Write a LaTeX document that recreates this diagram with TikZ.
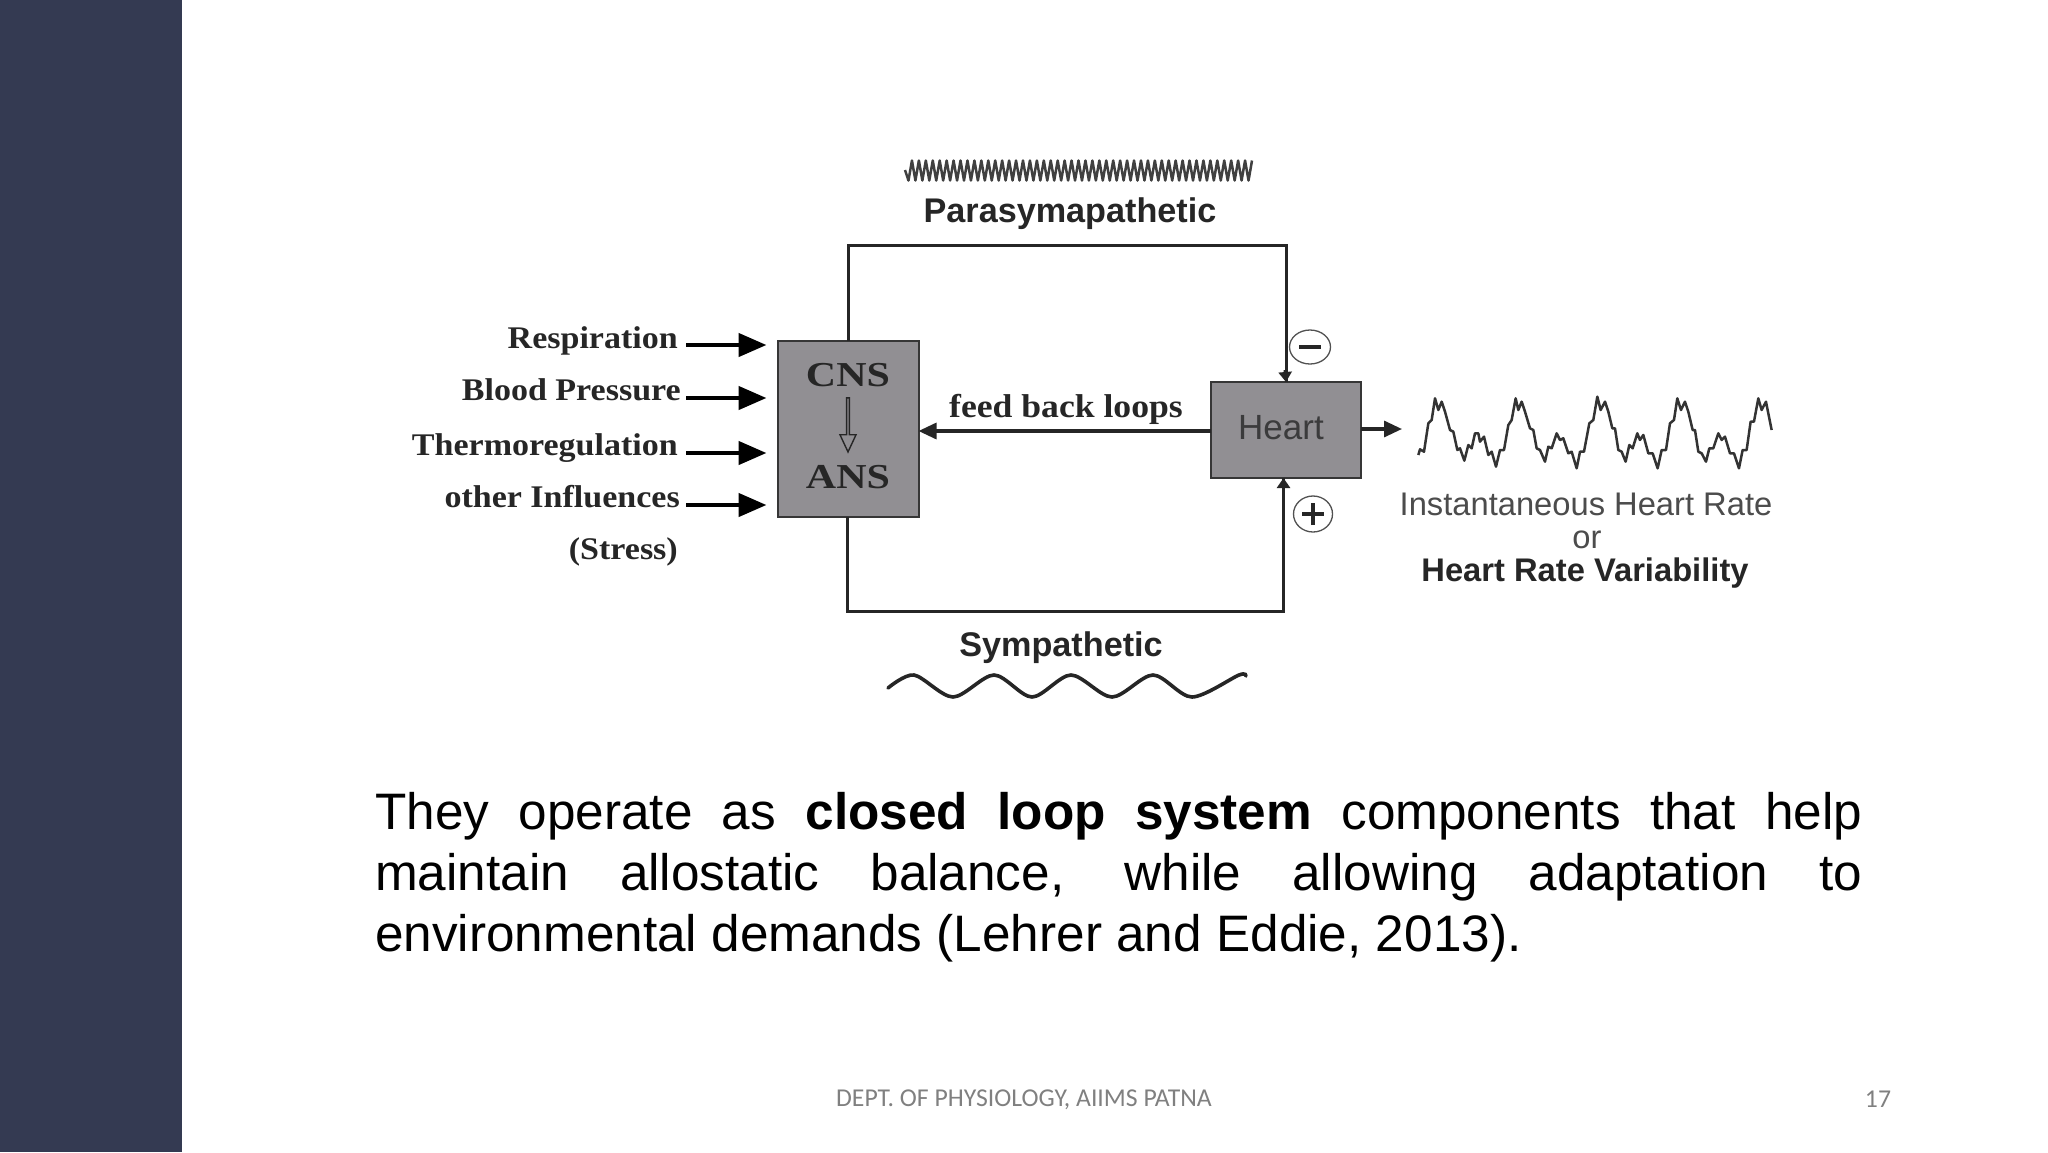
\documentclass[tikz,border=0pt]{standalone}
\usepackage{fontspec}
\setmainfont{Liberation Sans}
\newfontfamily\serifb[FakeStretch=1.08]{Liberation Serif}
\newfontfamily\serifw[FakeStretch=1.2]{Liberation Serif}
\newfontfamily\carl{Carlito}
\usetikzlibrary{arrows.meta,shapes.arrows,shapes.geometric}
\definecolor{sidebar}{HTML}{343A52}
\definecolor{boxgray}{HTML}{918F93}
\definecolor{inkdark}{HTML}{262626}
\definecolor{footgray}{HTML}{808080}
\tikzset{
  x=1pt,y=-1pt,
  graybox/.style={draw=inkdark!85!boxgray,line width=2pt,fill=boxgray,inner sep=0pt,outer sep=0pt},
  wire/.style={draw=inkdark,line width=3pt,line join=miter},
  inarrow/.style={draw=black,line width=4.5pt,-{Triangle[length=28pt,width=23pt]}},
  midarrow/.style={draw=inkdark,line width=3.2pt,-{Triangle[length=18pt,width=16pt]}},
  smallhead/.style={draw=inkdark,line width=3pt,-{Triangle[length=10pt,width=13pt]}},
  inlabel/.style={anchor=base east,inner sep=0pt,text=inkdark,font=\serifb\bfseries\fontsize{31.5}{36}\selectfont},
  sanslabel/.style={inner sep=0pt,text=inkdark,font=\bfseries\fontsize{34.2}{38}\selectfont},
  outlabel/.style={inner sep=0pt,text=black!70,font=\fontsize{32.7}{38}\selectfont},
  signring/.style={draw=inkdark!80,line width=1.3pt,ellipse,fill=white},
  footer/.style={inner sep=0pt,text=footgray,font=\carl\fontsize{25.7}{30}\selectfont}
}
\begin{document}
\begin{tikzpicture}
\useasboundingbox (0,0) rectangle (2048,1152);
\fill[white] (0,0) rectangle (2048,1152);
\fill[sidebar] (0,0) rectangle (182,1152);

% boxes
\node[graybox,minimum width=141pt,minimum height=176pt] (cns) at (848,429) {};
\node[graybox,minimum width=150pt,minimum height=96pt] (heart) at (1286,430) {};
\node[inner sep=0pt,text=inkdark,font=\serifw\bfseries\fontsize{35}{40}\selectfont] (cnslabel) at (848,375) {CNS};
\node[inner sep=0pt,text=inkdark,font=\serifw\bfseries\fontsize{35}{40}\selectfont] (anslabel) at (848,477) {ANS};
\node[inner sep=0pt,text=inkdark!80!boxgray,font=\fontsize{35}{40}\selectfont] (heartlabel) at (1281,428) {Heart};
\node[draw=inkdark,line width=1.4pt,fill=boxgray,shape=single arrow,rotate=-90,inner sep=0pt,
      minimum height=54pt,minimum width=16pt,single arrow head extend=3.5pt,single arrow tip angle=50] (cnsarrow) at (848,423.5) {};

% labels
\node[sanslabel] (para) at (1070,214) {Parasymapathetic};
\node[sanslabel] (symp) at (1061,648) {Sympathetic};
\node[inner sep=0pt,text=inkdark,font=\serifb\bfseries\fontsize{33}{38}\selectfont] (feed) at (1066,409) {feed back loops};

\node[inlabel] (l1) at (678,348) {Respiration};
\node[inlabel] (l2) at (681,400) {Blood Pressure};
\node[inlabel] (l3) at (678,455) {Thermoregulation};
\node[inlabel] (l4) at (680,507) {other Influences};
\node[inlabel] (l5) at (678,559) {(Stress)};

% loop
\coordinate (ptop) at (848,245);
\coordinate (pbot) at (847,611);
\coordinate (hbot) at (1283.5,611);
\draw[wire] (cns.north) -- (cns.north |- ptop) -- (heart.north |- ptop) -- (heart.north);
\draw[smallhead] (1285,370) -- (heart.north);
\draw[wire] (pbot |- cns.south) -- (pbot) -- (hbot) -- (hbot |- heart.south);
\draw[smallhead] (1283.5,492) -- (hbot |- heart.south);

% feedback and output
\coordinate (fb) at (1000,431);
\draw[midarrow] (heart.west |- fb) -- (cns.east |- fb);
\coordinate (outend) at (1402,429);
\draw[midarrow] (heart.east |- outend) -- (outend);

% input arrows
\coordinate (a1) at (686,345);
\coordinate (a2) at (686,398);
\coordinate (a3) at (686,453);
\coordinate (a4) at (686,505);
\foreach \c in {a1,a2,a3,a4}
  \draw[inarrow,shorten >=11pt] (\c) -- (cns.west |- \c);

% sign rings
\node[signring,minimum width=41pt,minimum height=34pt,inner sep=0pt] (minus) at (1310,347) {};
\draw[line width=4pt,inkdark] ([xshift=-11pt]minus.center) -- ([xshift=11pt]minus.center);
\node[signring,minimum width=39pt,minimum height=36pt,inner sep=0pt] (plus) at (1313,514) {};
\draw[line width=4pt,inkdark] ([xshift=-11pt]plus.center) -- ([xshift=11pt]plus.center);
\draw[line width=4pt,inkdark] ([yshift=-11pt]plus.center) -- ([yshift=11pt]plus.center);

% parasympathetic wave
\draw[black!75,line width=2.5pt,line join=round]
  (905,170) \foreach \i in {1,...,100} { -- ({905+\i*3.47},{170.5+(2*mod(\i,2)-1)*10}) };

% sympathetic wave
\draw[inkdark,line width=3.6pt,line cap=round] plot[smooth,tension=0.5] coordinates {
  (888,688) (914,675) (953,697) (994,675) (1032,697) (1071,675) (1112,697) (1153,675) (1192,697) (1239,675) (1246,676)};

% HRV trace
\begin{scope}[shift={(1380,370)},x=0.3333pt,y=-0.3333pt]
\draw[black!80,line width=2.5pt,line join=round] plot coordinates {
(115,255)(120,238)(132,245)(145,160)(155,150)(165,85)(175,120)(185,95)(195,125)(210,180)(220,185)(232,240)(240,235)(253,272)(265,225)(275,235)(285,190)(295,190)(300,215)(312,200)(325,255)(335,245)(348,290)(360,240)(372,240)(385,165)(395,150)(407,85)(415,120)(425,95)(435,125)(450,175)(460,180)(470,235)(480,240)(495,275)(505,230)(515,235)(530,190)(540,210)(550,205)(565,250)(575,245)(590,295)(600,245)(612,245)(628,160)(640,150)(652,80)(662,120)(675,95)(685,125)(697,175)(705,175)(715,240)(725,245)(737,275)(748,225)(758,235)(772,190)(780,210)(790,195)(805,250)(818,250)(833,295)(845,240)(858,240)(870,160)(882,150)(892,85)(903,120)(915,95)(925,125)(938,180)(945,180)(955,245)(965,250)(978,275)(988,235)(1000,235)(1015,190)(1025,210)(1035,200)(1050,250)(1062,250)(1077,295)(1088,240)(1100,240)(1112,155)(1122,155)(1135,85)(1145,120)(1158,95)(1165,130)(1175,180)};
\end{scope}

\node[outlabel] (ihr) at (1586,504) {Instantaneous Heart Rate};
\node[outlabel] (orlab) at (1587,540) {or};
\node[inner sep=0pt,text=inkdark,font=\bfseries\fontsize{32.7}{38}\selectfont] (hrv) at (1585,573) {Heart Rate Variability};

% paragraph
\node[anchor=base west,inner sep=0pt,text width=1486pt,align=left,font=\fontsize{51.3}{61}\selectfont] (para2) at (375,829) {%
\spaceskip=0pt\xspaceskip=0pt
\makebox[1487pt][s]{They operate as \textbf{closed loop system} components that help}\\
\makebox[1487pt][s]{maintain allostatic balance, while allowing adaptation to}\\
environmental demands (Lehrer and Eddie, 2013).};

% footer
\node[footer] (foot) at (1024,1100) {DEPT. OF PHYSIOLOGY, AIIMS PATNA};
\node[footer] (pagenum) at (1878,1099) {17};
\end{tikzpicture}
\end{document}
